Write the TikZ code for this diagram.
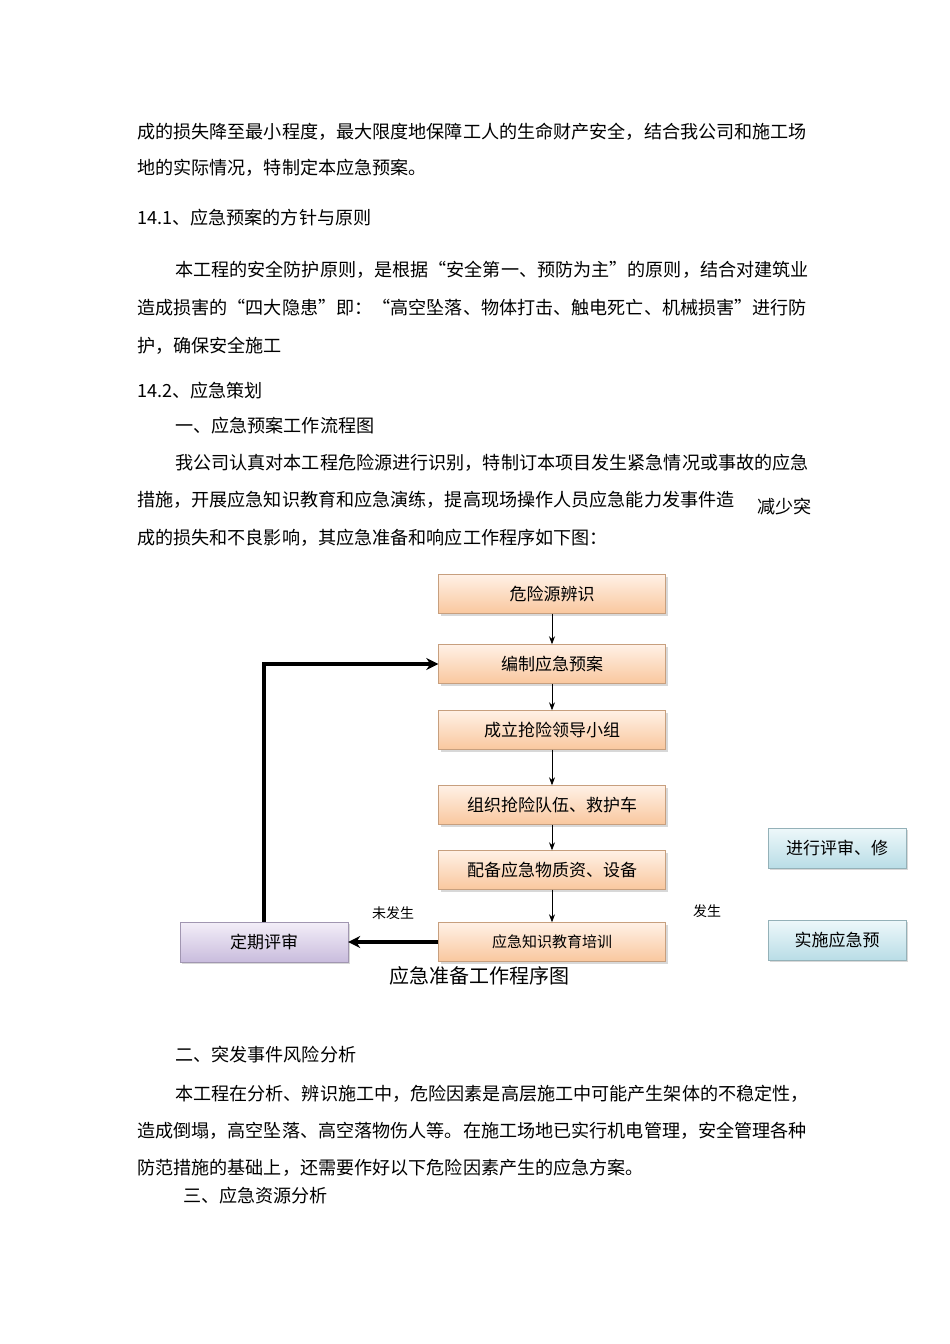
\documentclass[tikz,border=0pt]{standalone}
\usepackage{fontspec}
\setmainfont{Noto Sans CJK SC}
\usetikzlibrary{arrows.meta,shadows}
\definecolor{orA}{HTML}{FFF1E6}
\definecolor{orB}{HTML}{F9C79E}
\definecolor{puA}{HTML}{F3EEF8}
\definecolor{puB}{HTML}{C9BCDD}
\definecolor{cyA}{HTML}{EEF8FA}
\definecolor{cyB}{HTML}{B9DDE6}
\begin{document}
\begin{tikzpicture}[x=1pt,y=-1pt,
 para/.style={anchor=west,inner sep=0,font=\fontsize{18.1}{20}\selectfont},
 obox/.style={draw=orB!80!black,minimum width=227pt,minimum height=39pt,inner sep=0,top color=orA,bottom color=orB,drop shadow={shadow xshift=2pt,shadow yshift=-2pt,fill=gray!60},font=\fontsize{17}{20}\selectfont},
 pbox/.style={obox,draw=puB!80!black,top color=puA,bottom color=puB,minimum width=168pt,minimum height=40pt},
 cbox/.style={obox,draw=cyB!80!black,top color=cyA,bottom color=cyB,minimum width=138pt,minimum height=40pt},
 lab/.style={inner sep=0,font=\fontsize{14}{16}\selectfont},
 ar/.style={-{Stealth[length=8pt,width=6pt]},line width=0.8pt},
 tar/.style={-{Stealth[length=12pt,width=12pt]},line width=4pt}]
\useasboundingbox[fill=white] (0,0) rectangle (950,1344);
\node[para] (t1) at (137,132) {成的损失降至最小程度，最大限度地保障工人的生命财产安全，结合我公司和施工场};
\node[para] (t2) at (137,168) {地的实际情况，特制定本应急预案。};
\node[para] (t3) at (137,218) {14.1、应急预案的方针与原则};
\node[para] (t4) at (175,270) {本工程的安全防护原则，是根据“安全第一、预防为主”的原则，结合对建筑业};
\node[para] (t5) at (137,308) {造成损害的“四大隐患”即：“高空坠落、物体打击、触电死亡、机械损害”进行防};
\node[para] (t6) at (137,346) {护，确保安全施工};
\node[para] (t7) at (137,391) {14.2、应急策划};
\node[para] (t8) at (175,426) {一、应急预案工作流程图};
\node[para] (t9) at (175,463) {我公司认真对本工程危险源进行识别，特制订本项目发生紧急情况或事故的应急};
\node[para] (t10) at (137,500) {措施，开展应急知识教育和应急演练，提高现场操作人员应急能力发事件造};
\node[para] (t10b) at (757,507) {减少突};
\node[para] (t11) at (137,538) {成的损失和不良影响，其应急准备和响应工作程序如下图：};
\node[obox] (b1) at (552,594) {危险源辨识};
\node[obox] (b2) at (552,664) {编制应急预案};
\node[obox] (b3) at (552,730) {成立抢险领导小组};
\node[obox] (b4) at (552,805) {组织抢险队伍、救护车};
\node[obox] (b5) at (552,870) {配备应急物质资、设备};
\node[obox,font=\fontsize{15}{18}\selectfont] (b6) at (552,942) {应急知识教育培训};
\node[pbox] (p) at (264,942) {定期评审};
\node[cbox] (c1) at (837,848) {进行评审、修};
\node[cbox] (c2) at (837,940) {实施应急预};
\node[lab] (l1) at (393,913) {未发生};
\node[lab] (l2) at (707,911) {发生};
\node[inner sep=0,font=\fontsize{20}{22}\selectfont] (cap) at (479,976) {应急准备工作程序图};
\draw[ar] (b1) -- (b2);
\draw[ar] (b2) -- (b3);
\draw[ar] (b3) -- (b4);
\draw[ar] (b4) -- (b5);
\draw[ar] (b5) -- (b6);
\draw[tar] (b6) -- (p);
\draw[tar] (p.north) |- (b2.west);
\node[para] (t12) at (175,1055) {二、突发事件风险分析};
\node[para] (t13) at (175,1094) {本工程在分析、辨识施工中，危险因素是高层施工中可能产生架体的不稳定性，};
\node[para] (t14) at (137,1131) {造成倒塌，高空坠落、高空落物伤人等。在施工场地已实行机电管理，安全管理各种};
\node[para] (t15) at (137,1168) {防范措施的基础上，还需要作好以下危险因素产生的应急方案。};
\node[para] (t16) at (183,1196) {三、应急资源分析};
\end{tikzpicture}
\end{document}
